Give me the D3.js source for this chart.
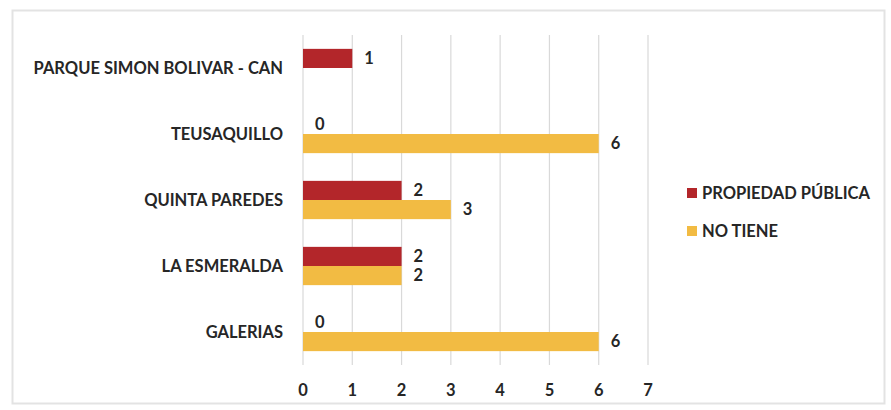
<!DOCTYPE html>
<html>
<head>
<meta charset="utf-8">
<script src="https://cdn.jsdelivr.net/npm/d3@7"></script>
<style>
  body { margin: 0; background: #fff; }
  text { font-family: Lato, "Open Sans", sans-serif; font-weight: bold; fill: #262626; }
</style>
</head>
<body>
<div class="js-chart"></div>
<script>
// data
var categories = ["PARQUE SIMON BOLIVAR - CAN", "TEUSAQUILLO", "QUINTA PAREDES", "LA ESMERALDA", "GALERIAS"];
var seriesNames = ["PROPIEDAD PÚBLICA", "NO TIENE"];
var propiedadPublica = [1, 0, 2, 2, 0];
var noTiene = [null, 6, 3, 2, 6];
var xTicks = [0, 1, 2, 3, 4, 5, 6, 7];
var colors = ["#B3262A", "#F2BB43"];

var width = 891, height = 410;
var FONT = 16.5;

var svg = d3.select(".js-chart").append("svg")
  .attr("width", width)
  .attr("height", height);

// frame
svg.append("rect")
  .attr("x", 12.5).attr("y", 10.5)
  .attr("width", 872).attr("height", 393)
  .attr("fill", "#fff")
  .attr("stroke", "#e3e3e3")
  .attr("stroke-width", 2);

var xScale = d3.scaleLinear().domain([0, 7]).range([303, 648]);
var yScale = d3.scaleBand().domain(categories).range([35, 365]).paddingInner(0.42).paddingOuter(0.21);
var inner = d3.scaleBand().domain([0, 1]).range([0, yScale.bandwidth()]);

// gridlines
svg.append("g").selectAll("line")
  .data(xTicks)
  .enter().append("line")
  .attr("x1", function(d) { return xScale(d); })
  .attr("x2", function(d) { return xScale(d); })
  .attr("y1", 35)
  .attr("y2", 365)
  .attr("stroke", "#d9d9d9")
  .attr("stroke-width", 1.2);

// x tick labels
svg.append("g").selectAll("text")
  .data(xTicks)
  .enter().append("text")
  .attr("x", function(d) { return xScale(d); })
  .attr("y", 390)
  .attr("dy", "0.35em")
  .attr("text-anchor", "middle")
  .attr("font-size", FONT)
  .text(function(d) { return d; });

// category labels
svg.append("g").selectAll("text")
  .data(categories)
  .enter().append("text")
  .attr("x", 283)
  .attr("y", function(d) { return yScale(d) + yScale.bandwidth() / 2; })
  .attr("dy", "0.35em")
  .attr("text-anchor", "end")
  .attr("font-size", FONT)
  .text(function(d) { return d; });

// bars
var series = [propiedadPublica, noTiene];
series.forEach(function(values, s) {
  var items = categories.map(function(c, i) { return { cat: c, value: values[i] }; })
    .filter(function(d) { return d.value !== null; });

  svg.append("g").selectAll("rect")
    .data(items)
    .enter().append("rect")
    .attr("x", xScale(0))
    .attr("y", function(d) { return yScale(d.cat) + inner(s); })
    .attr("width", function(d) { return xScale(d.value) - xScale(0); })
    .attr("height", inner.bandwidth())
    .attr("fill", colors[s]);

  svg.append("g").selectAll("text")
    .data(items)
    .enter().append("text")
    .attr("x", function(d) { return xScale(d.value) + 12; })
    .attr("y", function(d) { return yScale(d.cat) + inner(s) + inner.bandwidth() / 2; })
    .attr("dy", "0.35em")
    .attr("font-size", FONT)
    .text(function(d) { return d.value; });
});

// legend
var legend = svg.append("g").selectAll("g")
  .data(seriesNames)
  .enter().append("g")
  .attr("transform", function(d, i) { return "translate(687," + (193 + i * 38) + ")"; });

legend.append("rect")
  .attr("x", 0).attr("y", -5)
  .attr("width", 10).attr("height", 10)
  .attr("fill", function(d, i) { return colors[i]; });

legend.append("text")
  .attr("x", 15)
  .attr("dy", "0.35em")
  .attr("font-size", FONT)
  .text(function(d) { return d; });
</script>
</body>
</html>
